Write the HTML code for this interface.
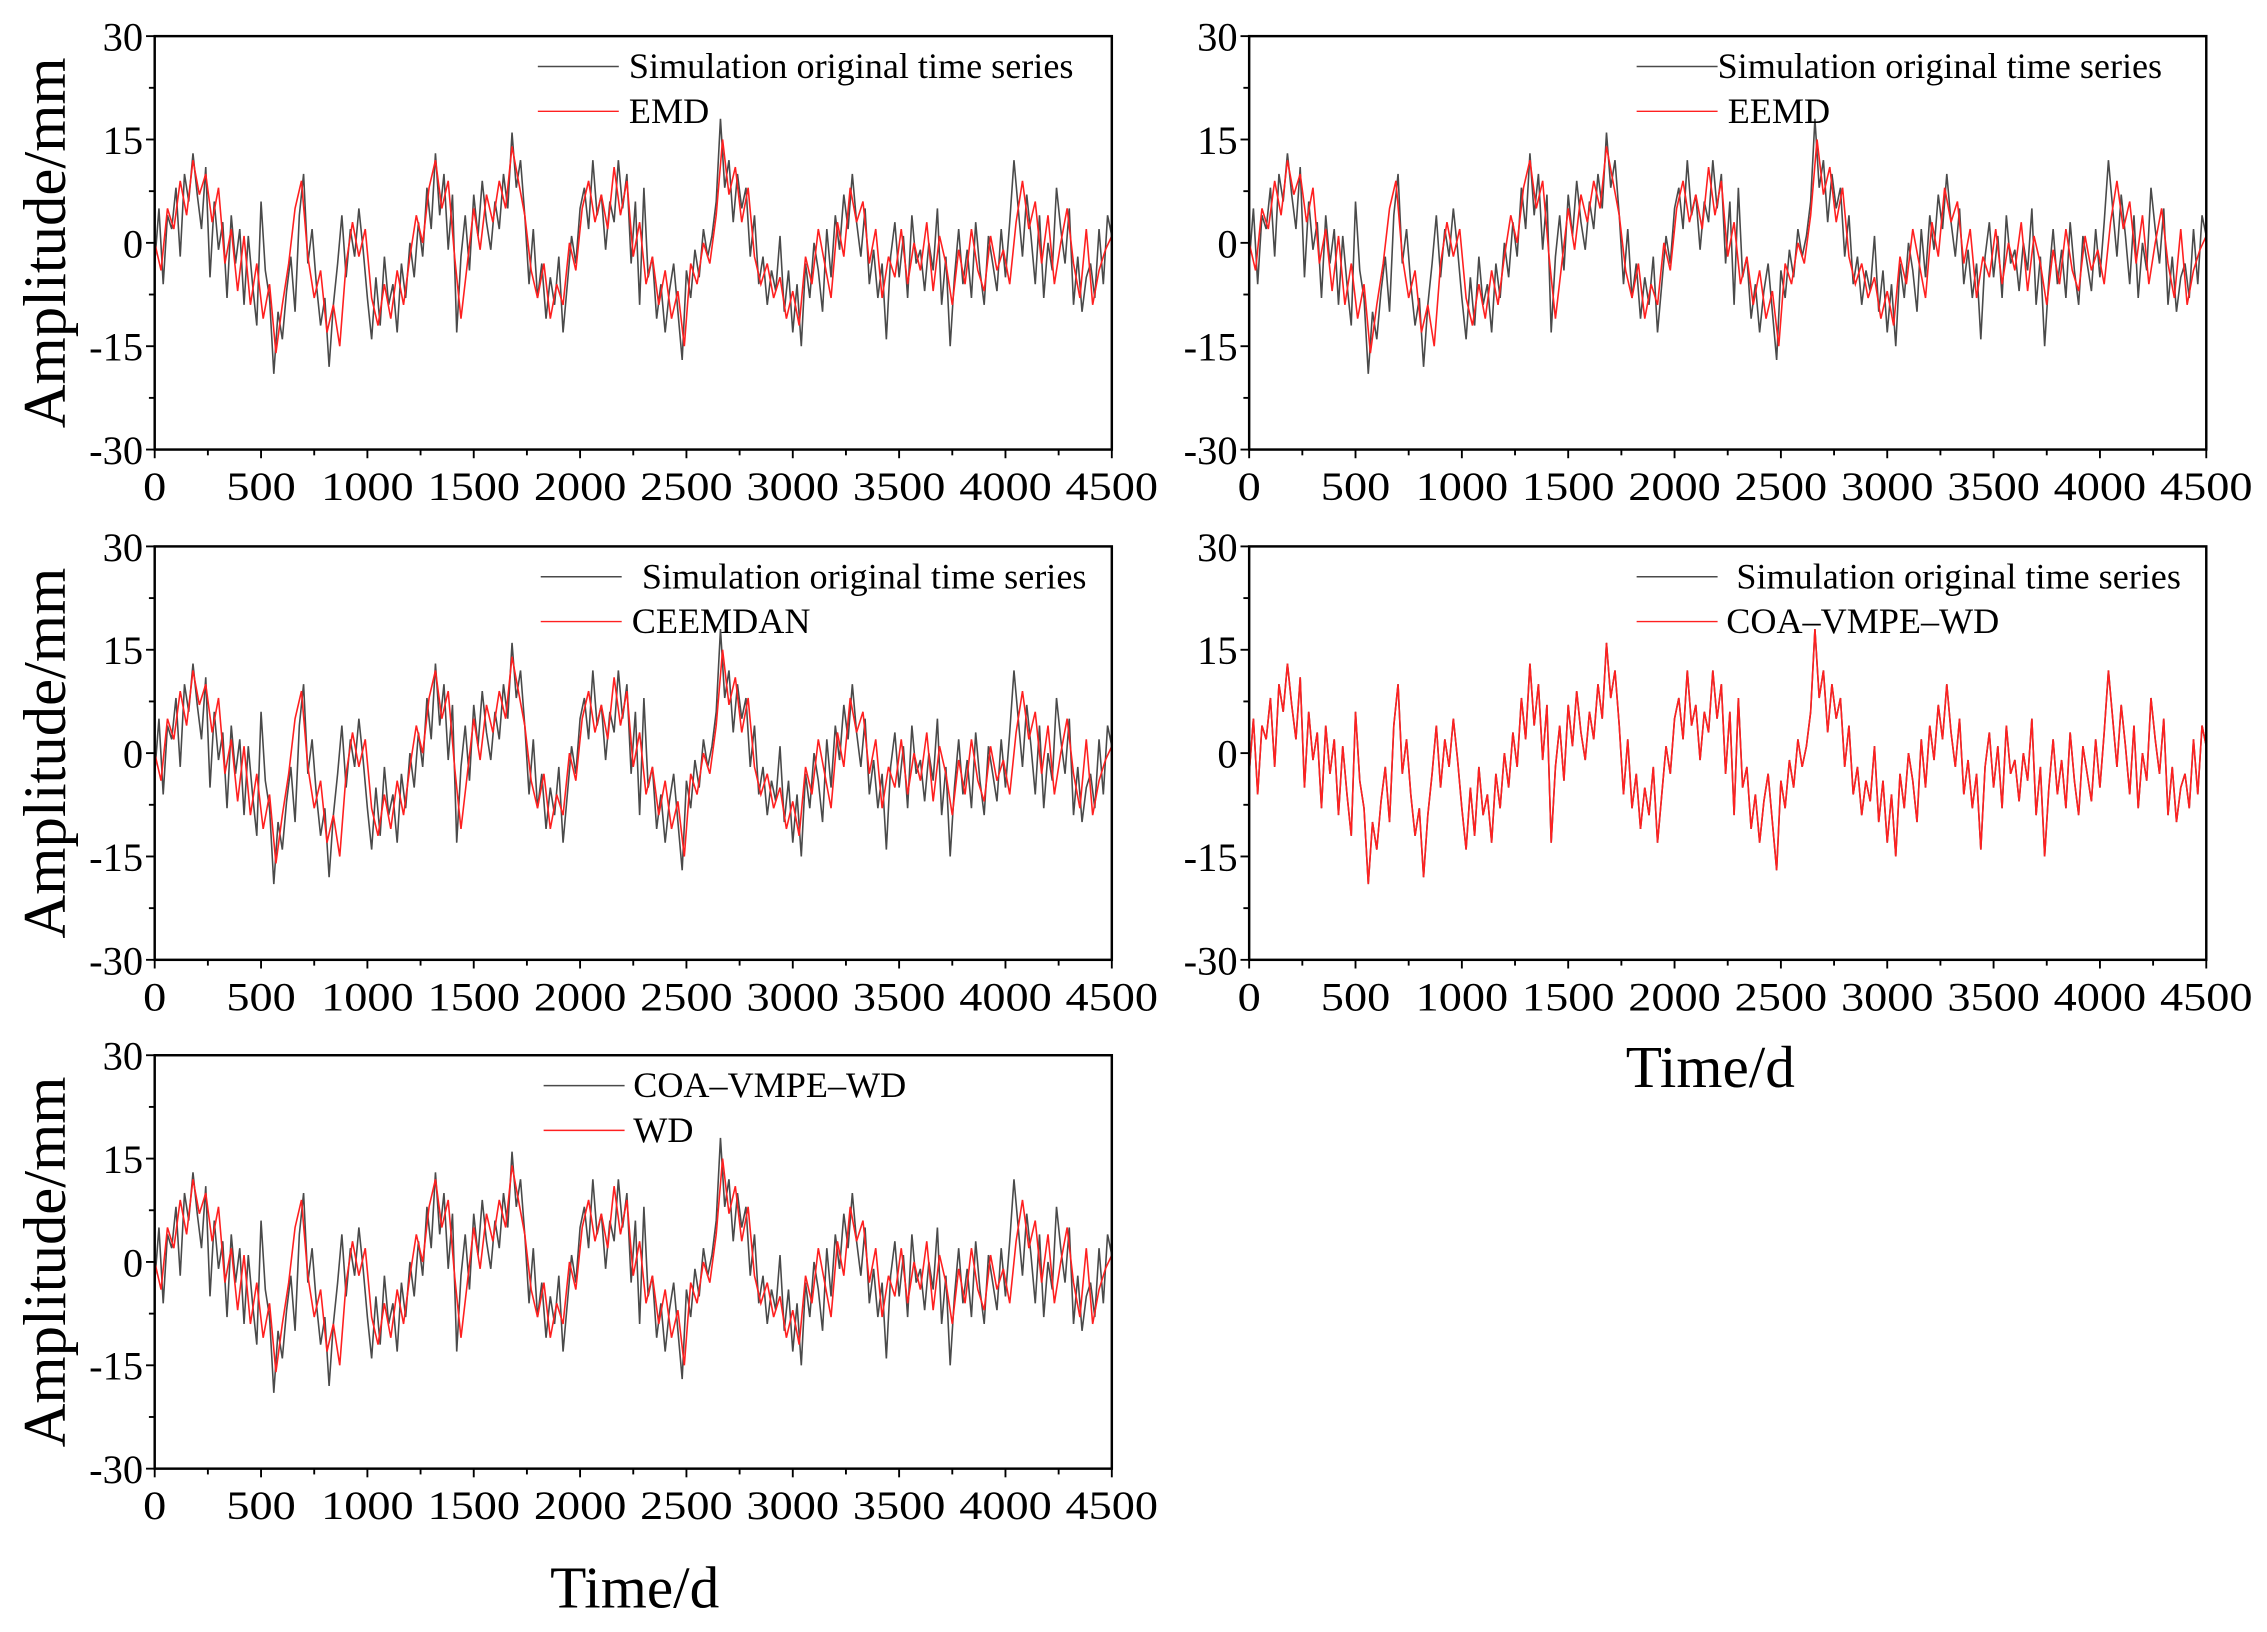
<!DOCTYPE html>
<html><head><meta charset="utf-8"><style>
html,body{margin:0;padding:0;background:#fff;}
svg{display:block;}
text{font-family:"Liberation Serif",serif;fill:#000;}
</style></head><body>
<svg id="chart" width="2267" height="1632" viewBox="0 0 1568 1129" preserveAspectRatio="none" xmlns="http://www.w3.org/2000/svg">
<rect width="1568" height="1129" fill="#fff"/>
<text x="439" y="1112" font-size="41" text-anchor="middle">Time/d</text>
<text x="1183" y="752" font-size="41" text-anchor="middle">Time/d</text>
</svg>
<script>
const xTicks = [0,500,1000,1500,2000,2500,3000,3500,4000,4500];
const yTicks = [30,15,0,-15,-30];
const original = [
-3,5,-6,4,2,8,-2,10,6,13,7,
2,11,-5,6,-1,3,-8,4,-3,2,
-9,1,-6,-12,6,-4,-8,-19,-10,-14,
-7,-2,-10,4,10,-3,2,-6,-12,-8,
-18,-9,-3,4,-5,2,-2,5,-1,-8,
-14,-5,-12,-2,-9,-6,-13,-3,-8,0,
-5,3,-2,8,2,13,4,10,-1,7,
-13,-2,4,-4,7,1,9,3,-1,6,
2,10,5,16,8,12,4,-6,2,-8,
-3,-11,-5,-9,-2,-13,-6,1,-3,5,
8,2,12,4,7,-1,6,3,12,5,
10,-3,6,-9,8,-5,-2,-11,-6,-13,
-7,-3,-10,-17,-4,-8,-1,-5,2,-2,
1,6,18,8,12,3,10,5,8,-2,
4,-6,-2,-9,-4,-7,1,-10,-4,-13,
-6,-15,-3,-8,0,-4,-10,2,-5,4,
-1,7,2,10,3,-2,5,-6,-1,-8,
-3,-14,-2,3,-5,1,-8,4,-3,-1,
-7,0,-4,5,-9,-2,-15,-5,2,-6,
-1,-8,3,-4,-9,1,-3,-7,2,-5,
3,12,5,-2,7,1,-6,4,-8,0,
-4,8,2,-3,5,-9,-2,-10,-5,-3,
-8,2,-6,4,1];
const denoised = [
0,-4,5,2,9,4,12,7,10,3,
8,-3,2,-7,1,-9,-3,-11,-6,-16,
-9,-3,5,9,-2,-8,-4,-13,-9,-15,
-3,3,-2,2,-8,-12,-6,-11,-4,-9,
-2,4,0,8,12,5,9,-2,-11,-3,
5,-1,7,3,9,5,14,9,4,-4,
-8,-3,-11,-6,-9,0,-4,5,9,3,
7,2,11,4,9,-2,3,-6,-2,-9,
-4,-11,-7,-15,-3,-6,0,-3,4,15,
7,11,3,8,-2,-6,-3,-8,-5,-11,
-7,-12,-2,-6,2,-3,-8,3,-2,8,
3,6,-3,2,-8,-2,-5,2,-6,0,
-4,3,-7,1,-3,-9,-1,-6,2,-4,
-7,1,-4,-1,-6,3,9,2,6,-3,
4,-6,0,5,-3,-8,2,-9,-4,-1,
1];
const panels = [
 {x0:107,y0:25,name:'emd',l1:'Simulation original time series',l2:'EMD',lx:372,tx1:435,tx2:435,black:original,red:denoised},
 {x0:864,y0:25,name:'eemd',l1:'Simulation original time series',l2:'EEMD',lx:1132,tx1:1188,tx2:1195,black:original,red:denoised},
 {x0:107,y0:378,name:'ceemdan',l1:'Simulation original time series',l2:'CEEMDAN',lx:374,tx1:444,tx2:437,black:original,red:denoised},
 {x0:864,y0:378,name:'coa-vmpe-wd',l1:'Simulation original time series',l2:'COA\u2013VMPE\u2013WD',lx:1132,tx1:1201,tx2:1194,black:original,red:original},
 {x0:107,y0:730,name:'wd',l1:'COA\u2013VMPE\u2013WD',l2:'WD',lx:376,tx1:438,tx2:438,black:original,red:denoised}
];
const NS='http://www.w3.org/2000/svg';
const svg=document.getElementById('chart');
const W=662,H=286;
function mk(tag,attrs,parent){const e=document.createElementNS(NS,tag);for(const k in attrs)e.setAttribute(k,attrs[k]);(parent||svg).appendChild(e);return e;}
panels.forEach(p=>{
  const g=mk('g',{});
  
  
  const sx=v=>p.x0+v/4500*W;
  const sy=v=>p.y0+(30-v)/60*H;
  function series(arr,color,nm){
    const step=4500/(arr.length-1);
    const d=arr.map((v,i)=>(i?'L':'M')+sx(i*step).toFixed(2)+' '+sy(v).toFixed(2)).join(' ');
    const path=mk('path',{d:d,fill:'none',stroke:color,'stroke-width':1.1},g);
    
    
  }
  series(p.black,'#4a4a4a','series-original');
  series(p.red,'#ff2020','series-denoised');
  const frame=mk('rect',{x:p.x0,y:p.y0,width:W,height:H,fill:'none',stroke:'#000','stroke-width':1.7},g);
  
  
  for(let v=0;v<=4500;v+=250){
    const major=v%500===0;
    mk('line',{x1:sx(v),x2:sx(v),y1:p.y0+H,y2:p.y0+H+(major?6:4),stroke:'#000','stroke-width':1.3},g);
  }
  xTicks.forEach(v=>{
    const t=mk('text',{x:sx(v),y:p.y0+H+35,'font-size':28,'text-anchor':'middle','textLength':(String(v).length*16),'lengthAdjust':'spacingAndGlyphs'},g);
    t.textContent=v;
    
    
  });
  for(let v=-30;v<=30;v+=7.5){
    const major=v%15===0;
    mk('line',{x1:p.x0,x2:p.x0-(major?6:4),y1:sy(v),y2:sy(v),stroke:'#000','stroke-width':1.3},g);
  }
  yTicks.forEach(v=>{
    const t=mk('text',{x:p.x0-8,y:sy(v)+10,'font-size':28,'text-anchor':'end'},g);
    t.textContent=v;
    
    
  });
  if(p.x0<500){
    const t=mk('text',{x:0,y:0,'font-size':42,'text-anchor':'middle',transform:'translate(45,'+(p.y0+H/2)+') rotate(-90)'},g);
    t.textContent='Amplitude/mm';
    
    
  }
  const ly1=p.y0+21, ly2=p.y0+52;
  mk('line',{x1:p.lx,x2:p.lx+56,y1:ly1,y2:ly1,stroke:'#4a4a4a','stroke-width':1},g);
  mk('line',{x1:p.lx,x2:p.lx+56,y1:ly2,y2:ly2,stroke:'#ff2020','stroke-width':1},g);
  const a=mk('text',{x:p.tx1,y:ly1+8,'font-size':25},g);
  a.textContent=p.l1;
  
  
  const b=mk('text',{x:p.tx2,y:ly2+8,'font-size':25},g);
  b.textContent=p.l2;
  
  
});
</script>
</body></html>
